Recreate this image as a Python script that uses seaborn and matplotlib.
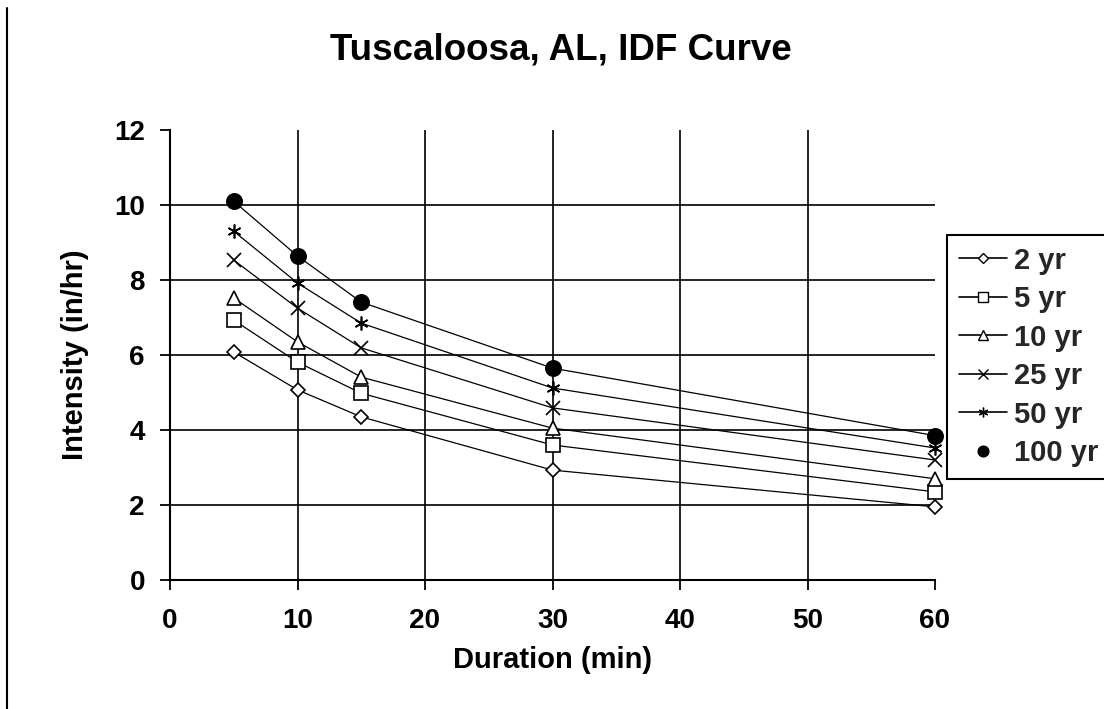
import matplotlib
matplotlib.use("Agg")
import matplotlib.pyplot as plt
from matplotlib.lines import Line2D
import seaborn as sns
import pandas as pd

# ---- data ----
durations = [5, 10, 15, 30, 60]
series_names = ["2 yr", "5 yr", "10 yr", "25 yr", "50 yr", "100 yr"]
int_2yr = [6.08, 5.07, 4.35, 2.93, 1.95]
int_5yr = [6.93, 5.81, 4.98, 3.60, 2.35]
int_10yr = [7.52, 6.35, 5.41, 4.05, 2.70]
int_25yr = [8.53, 7.25, 6.19, 4.59, 3.20]
int_50yr = [9.30, 7.92, 6.85, 5.12, 3.52]
int_100yr = [10.10, 8.64, 7.41, 5.65, 3.85]
x_ticks = [0, 10, 20, 30, 40, 50, 60]
y_ticks = [0, 2, 4, 6, 8, 10, 12]
title = "Tuscaloosa, AL, IDF Curve"
x_label = "Duration (min)"
y_label = "Intensity (in/hr)"

values = [int_2yr, int_5yr, int_10yr, int_25yr, int_50yr, int_100yr]
df = pd.DataFrame(
    [(d, v, name) for name, vals in zip(series_names, values) for d, v in zip(durations, vals)],
    columns=["Duration", "Intensity", "Series"],
)

sns.set_theme(style="white")
plt.rcParams["font.family"] = ["Liberation Sans", "DejaVu Sans"]

fig = plt.figure(figsize=(11.04, 7.09), dpi=100)
ax = fig.add_axes([170 / 1104, 1 - 580 / 709, 765 / 1104, 450 / 709])

styles = {
    "2 yr": dict(marker="D", ms=7, mfc="white"),
    "5 yr": dict(marker="s", ms=10, mfc="white"),
    "10 yr": dict(marker="^", ms=10, mfc="white"),
    "25 yr": dict(marker="x", ms=10, mfc="black"),
    "50 yr": dict(marker=(6, 2, 0), ms=10, mfc="black"),
    "100 yr": dict(marker="o", ms=11, mfc="black"),
}

handles = []
for name in series_names:
    st = styles[name]
    sub = df[df["Series"] == name]
    sns.lineplot(data=sub, x="Duration", y="Intensity", ax=ax, color="black",
                 linewidth=0.9, marker=st["marker"], markersize=st["ms"],
                 markerfacecolor=st["mfc"], markeredgecolor="black",
                 markeredgewidth=1.2, legend=False, zorder=3, clip_on=False)
    handles.append(Line2D([], [], color="black",
                          linewidth=(0 if name == "100 yr" else 1.2),
                          marker=st["marker"], markersize=st["ms"] * 0.7,
                          markerfacecolor=st["mfc"], markeredgecolor="black",
                          markeredgewidth=1.0, label=name))

ax.set_xlim(0, 60)
ax.set_ylim(0, 12)
ax.set_xticks(x_ticks)
ax.set_yticks(y_ticks)
ax.set_xticklabels([str(t) for t in x_ticks])
ax.set_yticklabels([str(t) for t in y_ticks])

ax.grid(True, color="black", linewidth=1.2)
# hide gridlines at the plot edges (no box in reference)
for gl, t in zip(ax.xaxis.get_gridlines(), x_ticks):
    if t in (x_ticks[0], x_ticks[-1]):
        gl.set_visible(False)
for gl, t in zip(ax.yaxis.get_gridlines(), y_ticks):
    if t in (y_ticks[0], y_ticks[-1]):
        gl.set_visible(False)

for s in ["top", "right"]:
    ax.spines[s].set_visible(False)
for s in ["left", "bottom"]:
    ax.spines[s].set_visible(True)
    ax.spines[s].set_color("black")
    ax.spines[s].set_linewidth(1.5)

ax.tick_params(axis="both", direction="out", length=7, width=1.3, color="black",
               labelsize=20, labelcolor="black", bottom=True, left=True)
ax.tick_params(axis="x", pad=13)
ax.tick_params(axis="y", pad=11)
for lab in ax.get_xticklabels() + ax.get_yticklabels():
    lab.set_fontweight("bold")

ax.set_xlabel(x_label, fontsize=21, fontweight="bold", color="black")
ax.set_ylabel(y_label, fontsize=21, fontweight="bold", color="black")
ax.xaxis.set_label_coords(0.5, (580 - 660) / 450)
ax.xaxis.label.set_va("center")
ax.yaxis.set_label_coords((75 - 170) / 765, 0.5)
ax.yaxis.label.set_va("center")

fig.text(0.5 * (318 + 803) / 1104, 1 - 50 / 709, title, fontsize=26.5,
         fontweight="bold", ha="center", va="center", color="black")

leg = ax.legend(handles=handles, loc="upper left",
                bbox_to_anchor=(947 / 1104, 1 - 235 / 709),
                bbox_transform=fig.transFigure, frameon=True, fancybox=False,
                shadow=False, borderaxespad=0, prop={"size": 21, "weight": "bold"},
                labelspacing=0.36, handlelength=1.65, handletextpad=0.25,
                borderpad=0.4, edgecolor="black", facecolor="white", framealpha=1)
leg.get_frame().set_linewidth(1.5)

# left border line of the original picture
fig.add_artist(Line2D([7 / 1104, 7 / 1104], [0, 1 - 8 / 709], transform=fig.transFigure,
                      color="black", linewidth=1.5))

fig.savefig("out.png", dpi=100, facecolor="white")
